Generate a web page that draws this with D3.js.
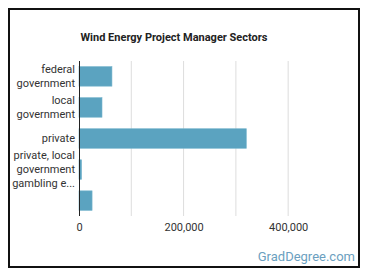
<!DOCTYPE html>
<html>
<head>
<meta charset="utf-8">
<script src="https://cdn.jsdelivr.net/npm/d3@7"></script>
<style>
  body { margin: 0; background: #fff; }
  svg { display: block; font-family: Roboto, "Open Sans", sans-serif; }
</style>
</head>
<body>
<div id="chart"></div>
<script>
var sectors = ["federal government", "local government", "private", "private, local government gambling establishments", ""];
var labelLines = [["federal", "government"], ["local", "government"], ["private"], ["private, local", "government", "gambling e..."], []];
var employees = [63000, 44000, 320000, 5000, 25000];
var tickValues = [0, 200000, 400000];
var gridValues = [100000, 200000, 300000, 400000];

var width = 370, height = 278;

var svg = d3.select("#chart").append("svg")
    .attr("width", width)
    .attr("height", height);

// frame round the picture
svg.append("rect")
    .attr("x", 9).attr("y", 9)
    .attr("width", 350).attr("height", 258)
    .attr("fill", "#fff")
    .attr("stroke", "#111")
    .attr("stroke-width", 2);

svg.append("text")
    .attr("x", 174).attr("y", 41)
    .attr("text-anchor", "middle")
    .style("font-size", "11px")
    .style("font-weight", "bold")
    .attr("fill", "#222")
    .text("Wind Energy Project Manager Sectors");

var x = d3.scaleLinear()
    .domain([0, 480000])
    .range([79, 330]);

var y = d3.scaleBand()
    .domain(d3.range(sectors.length))
    .range([61, 216])
    .paddingInner(0.37)
    .paddingOuter(0.18);

// grid lines
svg.selectAll(".grid")
    .data(gridValues)
    .enter()
    .append("line")
    .attr("class", "grid")
    .attr("x1", function(d){ return x(d); })
    .attr("x2", function(d){ return x(d); })
    .attr("y1", 61)
    .attr("y2", 216)
    .attr("stroke", "#ddd")
    .attr("stroke-width", 1);

svg.selectAll(".bar")
    .data(employees)
    .enter()
    .append("rect")
    .attr("class", "bar")
    .attr("x", x(0))
    .attr("y", function(d, i){ return y(i); })
    .attr("width", function(d){ return x(d) - x(0); })
    .attr("height", y.bandwidth())
    .attr("fill", "#5ba3c0")
    .attr("stroke", "#79b6cd")
    .attr("stroke-width", 0.6);

// y axis line
svg.append("line")
    .attr("x1", x(0) + 0.5).attr("x2", x(0) + 0.5)
    .attr("y1", 61).attr("y2", 216)
    .attr("stroke", "#222")
    .attr("stroke-width", 1);

// category labels, wrapped
var lineH = 14;
svg.selectAll(".cat")
    .data(labelLines)
    .enter()
    .append("text")
    .attr("class", "cat")
    .attr("text-anchor", "end")
    .style("font-size", "11px")
    .attr("fill", "#333")
    .each(function(lines, i){
      var cy = y(i) + y.bandwidth() / 2;
      var top = cy - (lines.length - 1) * lineH / 2;
      d3.select(this).selectAll("tspan")
        .data(lines)
        .enter()
        .append("tspan")
        .attr("x", 75)
        .attr("y", function(d, j){ return top + j * lineH; })
        .attr("dy", "0.35em")
        .text(function(d){ return d; });
    });

// x axis
var xAxis = d3.axisBottom(x)
    .tickValues(tickValues)
    .tickSize(0)
    .tickPadding(0)
    .tickFormat(d3.format(","));

var gx = svg.append("g")
    .attr("transform", "translate(0,223)")
    .call(xAxis);
gx.select(".domain").remove();
gx.selectAll("text")
    .style("font-size", "11px")
    .style("font-family", "Roboto, sans-serif")
    .attr("fill", "#333");

svg.append("text")
    .attr("x", 355).attr("y", 261)
    .attr("text-anchor", "end")
    .style("font-size", "13px")
    .attr("fill", "#6b9fc0")
    .text("GradDegree.com");
</script>
</body>
</html>
